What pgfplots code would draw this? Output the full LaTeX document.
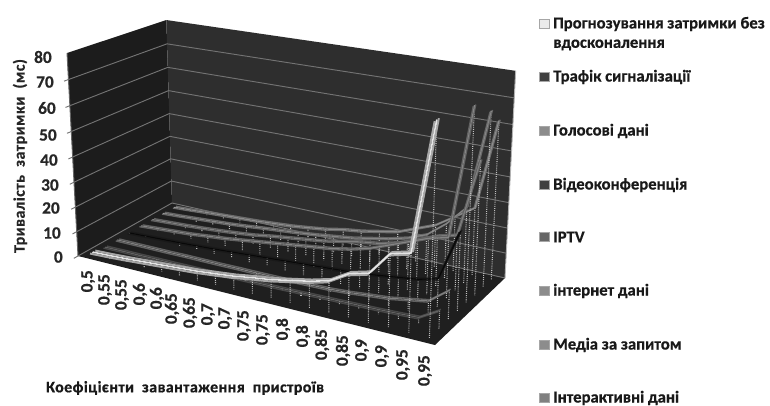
\documentclass[border=0pt]{standalone}
\usepackage{pgfplots}
\pgfplotsset{compat=1.18}
\usepackage{pgfplotstable}
\usepackage{fontspec}
\setmainfont[BoldFeatures={FakeBold=0.5}]{Carlito}

% Delay (ms) per load step i for each traffic class
\pgfplotstableread{
i  s1   s2   s3   s4   s5   s6   s7   s8
0  1.0  0.1  0.2  0.3  0.5  0.4  0.4  0.3
1  1.3  0.2  0.2  0.6  1.0  0.8  0.8  0.7
2  1.7  0.2  0.2  0.9  1.5  1.2  1.3  1.2
3  2.2  0.3  0.2  1.2  2.0  1.7  1.8  1.6
4  2.7  0.3  0.3  1.6  2.8  2.3  2.3  2.0
5  3.2  0.4  0.3  2.0  3.5  3.0  3.0  2.4
6  3.7  0.4  0.3  2.5  4.5  3.8  3.8  3.0
7  4.5  0.5  0.4  3.0  5.5  5.0  4.5  3.6
8  5.3  0.6  0.4  3.5  6.5  6.0  5.2  4.5
9  6.5  0.7  0.5  4.0  7.5  7.0  6.0  5.5
10 7.5  0.8  0.6  4.5  8.5  8.0  7.0  7.0
11 9.0  1.0  0.8  5.0  9.5  9.5  8.0  8.0
12 10.5 1.2  1.0  5.5  11   11   9.5  9.5
13 12.5 1.4  1.5  6.0  13   12   11   11
14 17   1.6  2.3  7.0  16   14   13   14
15 19   1.8  3.0  8.0  19   17   16   17
16 28   2.1  4.3  9.0  22   20   22   22
17 30   2.5  5.6  11   24   22   30   27
18 79   7.0  11.5 31   74.6 52   68   62
}\delays

% Box faces and wall grid in box coordinates (u along the load axis, v in depth, w up)
\pgfplotstableread{
u v w
0 0 0
0 1 0
0 1 1
0 0 1
}\leftwall
\pgfplotstableread{
u v w
0 1 0
1 1 0
1 1 1
0 1 1
}\backwall
\pgfplotstableread{
u v w
0 0 0
1 0 0
1 1 0
0 1 0
}\floorface
\pgfplotstableread{
u v
0 -0.04
0 1
1 1
}\gridpath
\pgfplotstableread{
u v w
1 1 0
1 1 1
}\rightedge
\pgfplotstableread{
u v w
0 0 0
0 0 1
}\frontedge

% Central projection of the box onto the page
\newcommand\den[3]{(1-0.10384*(#1)+0.09391*(#2)-0.048*(#3))}
\newcommand\prx[3]{((311.83*(#1)+110.15*(#2)+78-14.2*(#3))/\den{#1}{#2}{#3})}
\newcommand\pry[3]{(405-((53.18*(#1)-33.94*(#2)+256-205.5*(#3))/\den{#1}{#2}{#3}+(#3)*(#2)*(4.2-7.4*(#1))))}

\newcommand\uu{((\thisrow{i}+0.5)/19)}
\newcommand\vv[1]{((#1-0.5)/8)}
\newcommand\ww[1]{(\thisrow{#1}/80)}

% One ribbon: drop lines, two edges and a lighter crest
% #1 column, #2 slot, #3 edge colour, #4 crest colour, #5 crest width, #6 edge width, #7 half depth
\newcommand\ribbon[7]{%
  \addplot[no markers, white!75!black, line width=0.8pt, dash pattern=on 0.7pt off 0.9pt,
    quiver={u={\prx{\uu}{\vv{#2}}{0}-\prx{\uu}{\vv{#2}}{\ww{#1}}},
            v={\pry{\uu}{\vv{#2}}{0}-\pry{\uu}{\vv{#2}}{\ww{#1}}}}]
    table[x expr={\prx{\uu}{\vv{#2}}{\ww{#1}}}, y expr={\pry{\uu}{\vv{#2}}{\ww{#1}}}]{\delays};
  \addplot[no markers, #3, line width=#6, line join=round]
    table[x expr={\prx{\uu}{(\vv{#2}-#7)}{\ww{#1}}}, y expr={\pry{\uu}{(\vv{#2}-#7)}{\ww{#1}}}]{\delays};
  \addplot[no markers, #3, line width=#6, line join=round]
    table[x expr={\prx{\uu}{(\vv{#2}+#7)}{\ww{#1}}}, y expr={\pry{\uu}{(\vv{#2}+#7)}{\ww{#1}}}]{\delays};
  \addplot[no markers, #4, line width=#5, line join=round]
    table[x expr={\prx{\uu}{\vv{#2}}{\ww{#1}}}, y expr={\pry{\uu}{\vv{#2}}{\ww{#1}}}]{\delays};
}

\newcommand\face[2]{%
  \addplot[fill=#2, draw=none]
    table[x expr={\prx{\thisrow{u}}{\thisrow{v}}{\thisrow{w}}}, y expr={\pry{\thisrow{u}}{\thisrow{v}}{\thisrow{w}}}]{#1} -- cycle;
}
\newcommand\boxedge[3]{%
  \addplot[no markers, #2, line width=#3]
    table[x expr={\prx{\thisrow{u}}{\thisrow{v}}{\thisrow{w}}}, y expr={\pry{\thisrow{u}}{\thisrow{v}}{\thisrow{w}}}]{#1};
}

\begin{document}
\begin{tikzpicture}
\begin{scope}[x=0.75pt,y=0.75pt]
\fill[white] (0,0) rectangle (770,405);
\end{scope}
\begin{axis}[
  at={(0,0)}, anchor=south west, scale only axis,
  width=577.5pt, height=303.75pt,
  xmin=0, xmax=770, ymin=0, ymax=405,
  hide axis, clip=false,
]
  \face{\floorface}{black!88}
  \face{\leftwall}{black!89}
  \face{\backwall}{black!82}

  \pgfplotsinvokeforeach{0,10,20,30,40,50,60,70}{
    \addplot[no markers, black!55, line width=0.7pt]
      table[x expr={\prx{\thisrow{u}}{\thisrow{v}}{#1/80}}, y expr={\pry{\thisrow{u}}{\thisrow{v}}{#1/80}}]{\gridpath};
  }
  \boxedge{\rightedge}{black!30}{0.7pt}
  \boxedge{\frontedge}{black!60}{0.7pt}

  % Back to front, as the ribbons overlap
  \ribbon{s8}{8}{black!58}{black!45}{0.8pt}{1pt}{0.018}
  \ribbon{s7}{7}{black!60}{black!48}{0.8pt}{1pt}{0.018}
  \ribbon{s6}{6}{black!62}{black!50}{0.8pt}{1pt}{0.018}
  \ribbon{s5}{5}{black!62}{black!48}{0.8pt}{1pt}{0.018}
  \ribbon{s4}{4}{black!90}{black!97}{0.8pt}{1pt}{0.018}
  \ribbon{s3}{3}{black!62}{black!50}{0.8pt}{1pt}{0.018}
  \ribbon{s2}{2}{black!72}{black!62}{0.8pt}{1pt}{0.018}
  \ribbon{s1}{1}{black!35}{black!10}{1.2pt}{1.5pt}{0.026}
\end{axis}

\begin{scope}[x=0.75pt,y=0.75pt]
  % Value scale
  \foreach \t/\xx/\yy in {80/52/57,70/54/82,60/56/108,50/57/135,40/58/160,30/59/185,20/60/208,10/61/233,0/63/257}
    \node[anchor=east, inner sep=0pt, font=\fontsize{13}{13}\selectfont\bfseries, text=black!85] at (\xx,405-\yy) {\t};

  % Load factors along the front edge
  \foreach \t/\xx/\yy in {{0,5}/88/270,{0,55}/105/274,{0,55}/122/279,{0,6}/140/283,{0,6}/157/287,{0,65}/172/293,{0,65}/190/297,{0,7}/208/303,{0,7}/225/307,{0,75}/244/310,{0,75}/263/314,{0,8}/283/318,{0,8}/303/325,{0,85}/322/329,{0,85}/343/335,{0,9}/362/339,{0,9}/382/345,{0,95}/403/349,{0,95}/425/355}
    \node[rotate=90, anchor=east, inner sep=0pt, font=\fontsize{13}{13}\selectfont\bfseries, text=black!85] at (\xx,405-\yy) {\t};

  % Axis titles
  \node[rotate=90, inner sep=0pt, font=\fontsize{12}{12}\selectfont\bfseries\addfontfeatures{LetterSpace=3}, text=black!85] at (20,405-156) {Тривалість\ \ затримки\ \ (мс)};
  \node[inner sep=0pt, font=\fontsize{12}{12}\selectfont\bfseries\addfontfeatures{LetterSpace=2.5}, text=black!90] at (185,405-388) {Коефіцієнти\ \ завантаження\ \ пристроїв};

  % Legend
  \foreach \t/\yy/\c in {{Прогнозування затримки без}/24/black!8,{Трафік сигналізації}/77/black!75,{Голосові дані}/131/black!45,{Відеоконференція}/185/black!75,{IPTV}/237/black!60,{інтернет дані}/291/black!45,{Медіа за запитом}/345/black!45,{Інтерактивні дані}/398/black!50}{
    \fill[\c, draw=black!35, line width=0.4pt] (539,405-\yy-4.5) rectangle (549,405-\yy+4.5);
    \node[anchor=west, inner sep=0pt, font=\fontsize{12.5}{12.5}\selectfont\bfseries, text=black!90] at (553,405-\yy) {\t};
  }
  \node[anchor=west, inner sep=0pt, font=\fontsize{12.5}{12.5}\selectfont\bfseries, text=black!90] at (553,405-45) {вдосконалення};
\end{scope}
\end{tikzpicture}
\end{document}
